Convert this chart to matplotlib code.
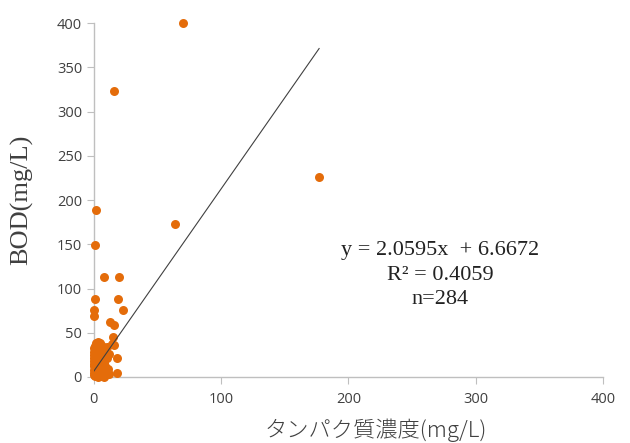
import matplotlib.pyplot as plt
import numpy as np

# タンパク質濃度 (mg/L) と BOD (mg/L)
protein = [70, 16, 177, 64, 2, 1, 8, 20, 1, 19, 0, 0, 23, 13, 16, 15, 18, 18, 14, 15.5,
           0, 0, 0, 0, 0, 0, 0, 0, 0, 0, 1, 1, 1, 1, 1, 1, 1, 1,
           2, 2, 2, 2, 2, 3, 3, 3, 3, 3, 3, 4, 4, 4, 4, 4,
           5, 5, 5, 5, 5, 6, 6, 6, 6, 6, 7, 7, 7, 7, 8, 8, 8, 8,
           9, 9, 10, 10, 10, 11, 12, 12]
bod = [400, 323, 226, 173, 189, 149, 113, 113, 88, 88, 76, 69, 76, 62, 59, 45, 22, 4, 37, 36,
       2, 5, 8, 12, 15, 18, 22, 25, 28, 33, 35, 1, 6, 10, 14, 20, 26, 30,
       3, 9, 16, 24, 38, 0, 5, 12, 19, 28, 40, 2, 8, 15, 22, 33,
       4, 11, 18, 27, 38, 1, 7, 14, 24, 35, 3, 10, 20, 31, 0, 6, 16, 27,
       2, 12, 5, 22, 34, 9, 3, 26]

slope = 2.0595
intercept = 6.6672
r2 = 0.4059
n = 284

fig = plt.figure(figsize=(6.3, 4.43), dpi=100)
ax = fig.add_axes([0.149, 0.149, 0.808, 0.799])

ax.scatter(protein, bod, s=42, color='#E46C0A', zorder=3, linewidths=0, clip_on=False)

xfit = np.array([0, max(protein)])
ax.plot(xfit, slope * xfit + intercept, color='#404040', lw=0.8, zorder=4)

ax.set_xlim(0, 400)
ax.set_ylim(0, 400)
ax.set_xticks(range(0, 401, 100))
ax.set_yticks(range(0, 401, 50))

for s in ['top', 'right']:
    ax.spines[s].set_visible(False)
for s in ['left', 'bottom']:
    ax.spines[s].set_color('#bfbfbf')
    ax.spines[s].set_linewidth(1.0)
ax.tick_params(colors='#bfbfbf', labelcolor='#404040', labelsize=10.5, length=5, direction='out')
for lab in ax.get_xticklabels() + ax.get_yticklabels():
    lab.set_family('Open Sans')
ax.tick_params(axis='x', pad=6)

ax.set_xlabel('タンパク質濃度(mg/L)', family=['Noto Sans CJK JP', 'DejaVu Sans'],
              fontsize=16, color='#404040', fontweight='light')
ax.xaxis.set_label_coords(0.554, -0.118)
ax.set_ylabel('BOD(mg/L)', family='Liberation Serif', fontsize=19, color='#404040')
ax.yaxis.set_label_coords(-0.12, 0.5)

txt = f'y = {slope}x  + {intercept}\nR² = {r2}\nn={n}'
ax.text(0.68, 0.288, txt, transform=ax.transAxes, family='Liberation Serif',
        fontsize=16, ha='center', va='center', linespacing=1.4, color='#222222')

fig.savefig('out.png', dpi=100)
